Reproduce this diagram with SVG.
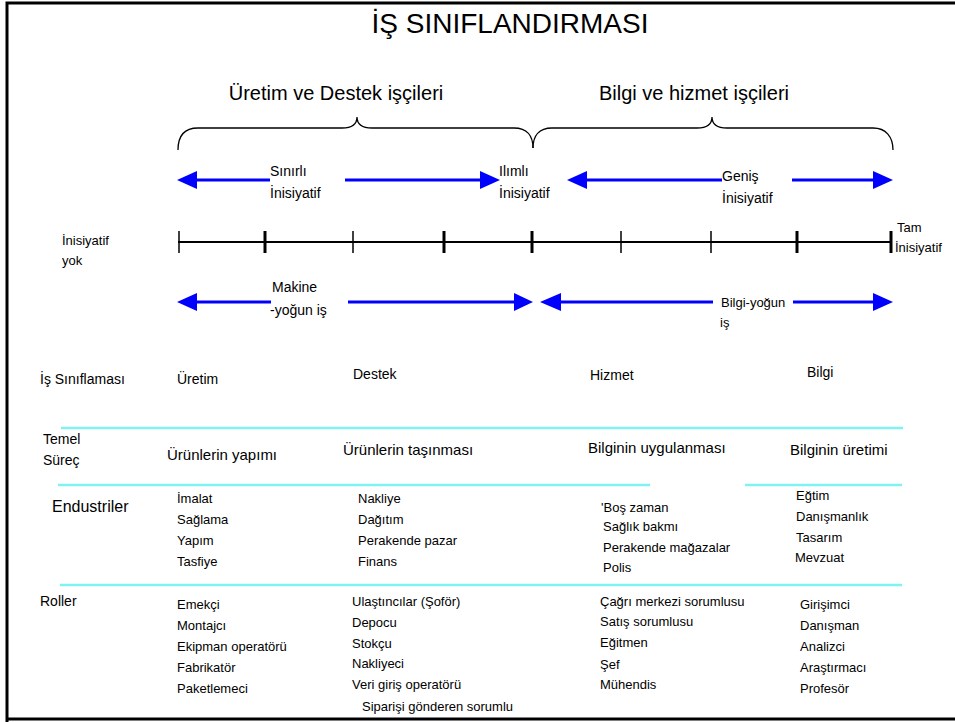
<svg xmlns="http://www.w3.org/2000/svg" width="955" height="722" viewBox="0 0 955 722">
<style>
text{font-family:"Liberation Sans",Arial,sans-serif;fill:#000}
.t13{font-size:13px}
.t14{font-size:14px}
.t15{font-size:15px}
.t16{font-size:16px}
.h20{font-size:20px}
.blue{stroke:#0000ff;stroke-width:3;fill:none}
.head{fill:#0000ff}
.cyan{stroke:#80f2f2;stroke-width:2.5;fill:none}
.tk{stroke:#000;stroke-width:1.5}
.tkb{stroke:#000;stroke-width:3}
</style>
<rect x="0" y="0" width="955" height="722" fill="#fff"/>
<g id="frame" fill="none" stroke="#000" stroke-width="3">
<polyline points="7,722 7,3 955,3"/>
<line x1="7" y1="719" x2="955" y2="719"/>
</g>
<g id="title"><text x="510" y="33" text-anchor="middle" style="font-size:28px">İŞ SINIFLANDIRMASI</text></g>
<g id="group-left">
<text class="h20" x="336" y="100" text-anchor="middle">Üretim ve Destek işçileri</text>
<path d="M178,150 C178,136 184,128 198,128 L342,128 C352,128 357,125 357,117 C357,125 362,128 372,128 L514,128 C527,128 533,136 533,148" fill="none" stroke="#000" stroke-width="1.3"/>
</g>
<g id="group-right">
<text class="h20" x="694" y="100" text-anchor="middle">Bilgi ve hizmet işçileri</text>
<path d="M533,148 C533,136 539,128 552,128 L697,128 C707,128 712,125 712,117 C712,125 717,128 727,128 L873,128 C886,128 893,137 893,150" fill="none" stroke="#000" stroke-width="1.3"/>
</g>
<g id="connectors">
<line class="blue" x1="196" y1="180" x2="270" y2="180"/>
<polygon class="head" points="177,180 197,171 197,189"/>
<line class="blue" x1="345" y1="180" x2="482" y2="180"/>
<polygon class="head" points="500,180 480,171 480,189"/>
<line class="blue" x1="586" y1="180" x2="722" y2="180"/>
<polygon class="head" points="567,180 587,171 587,189"/>
<line class="blue" x1="792" y1="180" x2="874" y2="180"/>
<polygon class="head" points="893,180 873,171 873,189"/>
<line class="blue" x1="196" y1="302" x2="271" y2="302"/>
<polygon class="head" points="177,302 197,293 197,311"/>
<line class="blue" x1="348" y1="302" x2="515" y2="302"/>
<polygon class="head" points="533,302 514,293 514,311"/>
<line class="blue" x1="560" y1="302" x2="713" y2="302"/>
<polygon class="head" points="540,302 561,293 561,311"/>
<line class="blue" x1="793" y1="302" x2="874" y2="302"/>
<polygon class="head" points="893,302 873,293 873,311"/>
</g>
<g id="scale">
<line x1="178" y1="242" x2="891" y2="242" stroke="#000" stroke-width="2"/>
<line class="tk" x1="179" y1="231" x2="179" y2="253"/>
<line class="tkb" x1="265" y1="231" x2="265" y2="253"/>
<line class="tk" x1="353" y1="231" x2="353" y2="253"/>
<line class="tkb" x1="444" y1="231" x2="444" y2="253"/>
<line class="tkb" x1="532" y1="231" x2="532" y2="253"/>
<line class="tk" x1="621" y1="231" x2="621" y2="253"/>
<line class="tk" x1="711" y1="231" x2="711" y2="253"/>
<line class="tkb" x1="797" y1="231" x2="797" y2="253"/>
<line class="tkb" x1="891" y1="231" x2="891" y2="253"/>
</g>
<g id="initiative-labels">
<text class="t13" x="62" y="245">İnisiyatif</text>
<text class="t13" x="62" y="265">yok</text>
<text class="t13" x="897" y="232">Tam</text>
<text class="t13" x="895" y="252">İnisiyatif</text>
<text class="t14" x="270" y="176">Sınırlı</text>
<text class="t14" x="270" y="198">İnisiyatif</text>
<text class="t14" x="499" y="176">Ilımlı</text>
<text class="t14" x="499" y="198">İnisiyatif</text>
<text class="t14" x="722" y="181">Geniş</text>
<text class="t14" x="722" y="203">İnisiyatif</text>
<text class="t14" x="272" y="292">Makine</text>
<text class="t14" x="270" y="315">-yoğun iş</text>
<text class="t13" x="721" y="307">Bilgi-yoğun</text>
<text class="t13" x="720" y="327">iş</text>
</g>
<g id="dividers">
<line class="cyan" x1="61" y1="428" x2="903" y2="428"/>
<line class="cyan" x1="58" y1="485" x2="650" y2="485"/>
<line class="cyan" x1="745" y1="485" x2="902" y2="485"/>
<line class="cyan" x1="60" y1="585" x2="902" y2="585"/>
</g>
<g id="row-classification">
<text class="t14" x="40" y="384">İş Sınıflaması</text>
<text class="t14" x="177" y="384">Üretim</text>
<text class="t14" x="353" y="379">Destek</text>
<text class="t14" x="590" y="380">Hizmet</text>
<text class="t14" x="807" y="377">Bilgi</text>
</g>
<g id="row-process">
<text class="t14" x="43" y="444">Temel</text>
<text class="t14" x="43" y="465">Süreç</text>
<text class="t15" x="167" y="460">Ürünlerin yapımı</text>
<text class="t15" x="343" y="455">Ürünlerin taşınması</text>
<text class="t15" x="588" y="453">Bilginin uygulanması</text>
<text class="t15" x="790" y="455">Bilginin üretimi</text>
</g>
<g id="row-industries">
<text class="t16" x="52" y="512">Endustriler</text>
<g class="t13">
<text x="177" y="503">İmalat</text>
<text x="177" y="524">Sağlama</text>
<text x="177" y="545">Yapım</text>
<text x="177" y="566">Tasfiye</text>
<text x="358" y="503">Nakliye</text>
<text x="358" y="524">Dağıtım</text>
<text x="358" y="545">Perakende pazar</text>
<text x="358" y="566">Finans</text>
<text x="601" y="512">'Boş zaman</text>
<text x="603" y="531">Sağlık bakmı</text>
<text x="603" y="552">Perakende mağazalar</text>
<text x="603" y="572">Polis</text>
<text x="796" y="500">Eğtim</text>
<text x="796" y="521">Danışmanlık</text>
<text x="796" y="542">Tasarım</text>
<text x="795" y="562">Mevzuat</text>
</g>
</g>
<g id="row-roles">
<text class="t14" x="40" y="606">Roller</text>
<g class="t13">
<text x="177" y="609">Emekçi</text>
<text x="177" y="630">Montajcı</text>
<text x="177" y="651">Ekipman operatörü</text>
<text x="177" y="672">Fabrikatör</text>
<text x="177" y="693">Paketlemeci</text>
<text x="352" y="606">Ulaştıncılar (Şoför)</text>
<text x="352" y="627">Depocu</text>
<text x="352" y="648">Stokçu</text>
<text x="352" y="668">Nakliyeci</text>
<text x="352" y="689">Veri giriş operatörü</text>
<text x="362" y="711">Siparişi gönderen sorumlu</text>
<text x="600" y="606">Çağrı merkezi sorumlusu</text>
<text x="600" y="626">Satış sorumlusu</text>
<text x="600" y="647">Eğitmen</text>
<text x="600" y="669">Şef</text>
<text x="600" y="689">Mühendis</text>
<text x="800" y="609">Girişimci</text>
<text x="800" y="630">Danışman</text>
<text x="800" y="651">Analizci</text>
<text x="800" y="672">Araştırmacı</text>
<text x="800" y="693">Profesör</text>
</g>
</g>
</svg>
